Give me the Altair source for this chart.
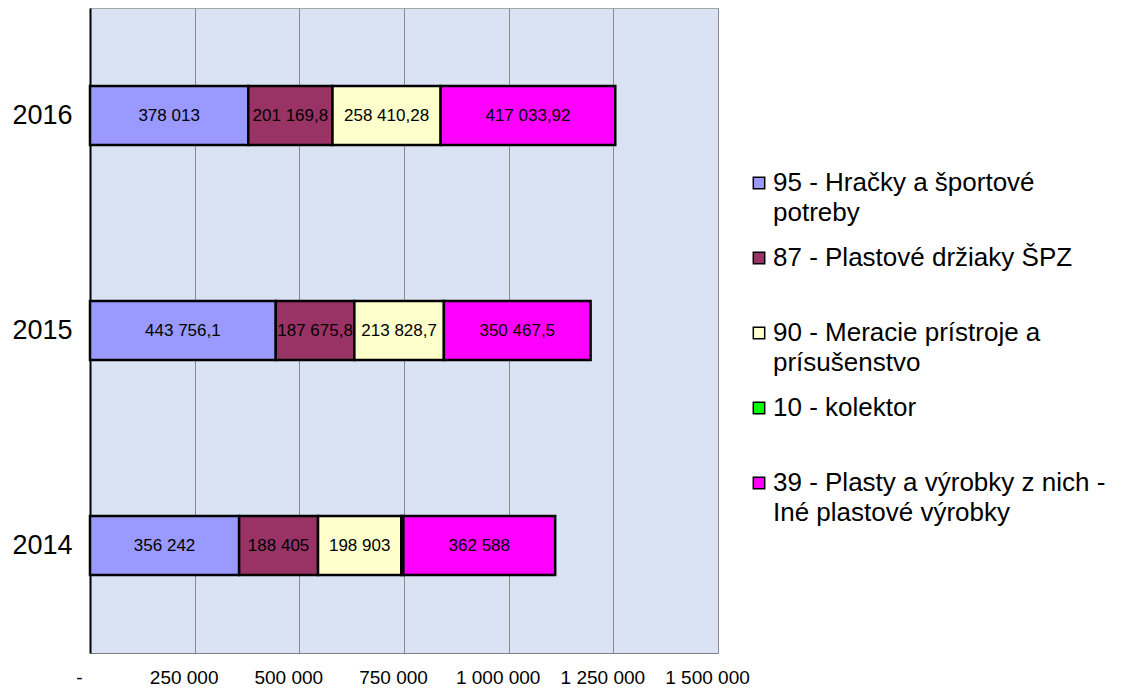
import altair as alt
import pandas as pd

years = ["2016", "2015", "2014"]
series = [
    "95 - Hračky a športové potreby",
    "87 - Plastové držiaky ŠPZ",
    "90 - Meracie prístroje a prísušenstvo",
    "10 - kolektor",
    "39 - Plasty a výrobky z nich - Iné plastové výrobky",
]
legend_labels = [
    "95 - Hračky a športové\npotreby",
    "87 - Plastové držiaky ŠPZ",
    "90 - Meracie prístroje a\nprísušenstvo",
    "10 - kolektor",
    "39 - Plasty a výrobky z nich -\nIné plastové výrobky",
]
colors = ["#9999ff", "#993366", "#ffffcc", "#00ff00", "#ff00ff"]

# values per series, in the order of `years`
v95 = [378013, 443756.1, 356242]
v87 = [201169.8, 187675.8, 188405]
v90 = [258410.28, 213828.7, 198903]
v10 = [0, 0, 5000]
v39 = [417033.92, 350467.5, 362588]
x_ticks = [0, 250000, 500000, 750000, 1000000, 1250000, 1500000]

def fmt(v):
    if v == 0:
        return ""
    return f"{v:,}".replace(",", " ").replace(".", ",")

rows = []
for si, (name, vals) in enumerate(zip(series, [v95, v87, v90, v10, v39])):
    for y, v in zip(years, vals):
        lab = fmt(v) if si != 3 else ""
        rows.append({"year": y, "series": name, "order": si, "value": v, "label": lab})
df = pd.DataFrame(rows)

color_scale = alt.Scale(domain=series, range=colors)
y_scale = alt.Scale(domain=years, paddingInner=0.726, paddingOuter=0.363)
x_scale = alt.Scale(domain=[0, 1500000], nice=False, zero=True)

base = alt.Chart(df).transform_filter("datum.value > 0").transform_stack(
    stack="value", groupby=["year"], sort=[alt.SortField("order")], as_=["x0", "x1"]
).transform_calculate(mid="(datum.x0 + datum.x1) / 2")

bars = base.mark_bar(stroke="black", strokeWidth=2.5, opacity=1).encode(
    x=alt.X(
        "x0:Q",
        scale=x_scale,
        axis=alt.Axis(
            values=x_ticks,
            labelExpr="datum.value == 0 ? '-' : replace(replace(format(datum.value, ','), ',', ' '), ',', ' ')",
            title=None,
            ticks=False,
            grid=True,
            gridColor="#8a8a8a",
            gridWidth=1,
            domainColor="#808080",
            labelFont="Liberation Sans",
            labelFontSize=19,
            labelColor="black",
            labelPadding=15,
            labelOffset=-11,
            labelFlush=False,
        ),
    ),
    x2="x1:Q",
    y=alt.Y(
        "year:N",
        scale=y_scale,
        sort=years,
        axis=alt.Axis(
            title=None,
            ticks=False,
            grid=False,
            labelFont="Liberation Sans",
            labelFontSize=27,
            labelColor="black",
            labelPadding=18,
            domainColor="black",
            domainWidth=2,
            minExtent=82,
            maxExtent=82,
        ),
    ),
    color=alt.Color("series:N", scale=color_scale, legend=None),
)

texts = base.transform_filter("datum.label != ''").mark_text(
    font="Liberation Sans", fontSize=17, color="#000000"
).encode(
    x=alt.X("mid:Q", scale=x_scale),
    y=alt.Y("year:N", scale=y_scale, sort=years),
    text="label:N",
)

leg_df = pd.DataFrame({"series": series, "text": legend_labels})
leg_y = alt.Y(
    "series:N",
    scale=alt.Scale(type="point", domain=series, range=[175, 475], padding=0),
    axis=None,
)
leg_sq = alt.Chart(leg_df).mark_square(
    size=130, stroke="black", strokeWidth=1.5, opacity=1, filled=True
).encode(
    x=alt.value(669),
    y=leg_y,
    color=alt.Color("series:N", scale=color_scale, legend=None),
)
leg_txt = alt.Chart(leg_df).mark_text(
    align="left", baseline="alphabetic", dy=8, font="Liberation Sans",
    fontSize=26, lineHeight=30, lineBreak="\n", color="black",
).encode(
    x=alt.value(683),
    y=leg_y,
    text="text:N",
)

chart = alt.layer(
    alt.layer(bars, texts),
    alt.layer(leg_sq, leg_txt),
).resolve_scale(y="independent").properties(
    width=628, height=645, padding=0
).configure_view(fill="#dae3f3", stroke="#a6a6a6")

chart.save("out.html", embed_options={"renderer": "svg", "actions": False})
